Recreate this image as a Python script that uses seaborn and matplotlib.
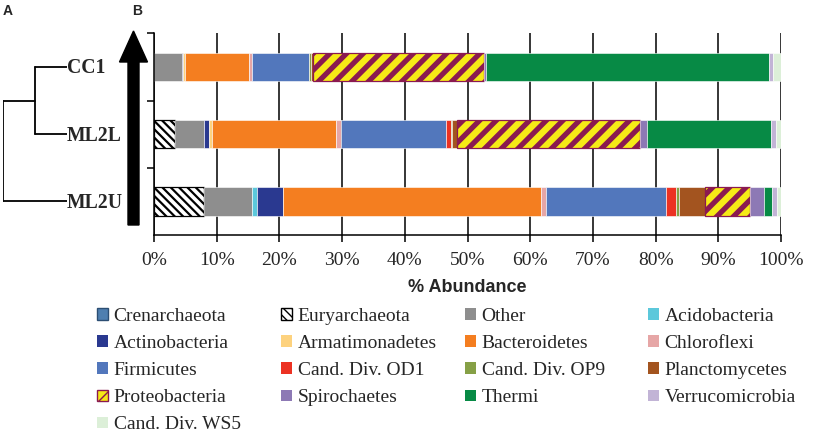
import matplotlib
matplotlib.use("Agg")
import matplotlib.pyplot as plt
import matplotlib.transforms as mtransforms
from matplotlib.patches import Patch, FancyArrow
import seaborn as sns
import pandas as pd
import numpy as np

# === DATA ===
samples = ['CC1', 'ML2L', 'ML2U']
phyla = ['Crenarchaeota', 'Euryarchaeota', 'Other', 'Acidobacteria',
         'Actinobacteria', 'Armatimonadetes', 'Bacteroidetes', 'Chloroflexi',
         'Firmicutes', 'Cand. Div. OD1', 'Cand. Div. OP9', 'Planctomycetes',
         'Proteobacteria', 'Spirochaetes', 'Thermi', 'Verrucomicrobia',
         'Cand. Div. WS5']
# % abundance per phylum (same order as phyla)
cc1 = [0.0, 0.0, 4.4, 0.0, 0.3, 0.2, 10.2, 0.5, 9.1, 0.0, 0.3, 0.4,
       27.2, 0.4, 45.1, 0.7, 1.2]
ml2l = [0.0, 3.3, 4.7, 0.0, 0.8, 0.4, 19.8, 0.8, 16.8, 0.7, 0.2, 0.8,
        29.2, 1.1, 19.8, 0.8, 0.8]
ml2u = [0.0, 8.0, 7.6, 0.8, 4.2, 0.0, 41.1, 0.8, 19.2, 1.6, 0.4, 4.1,
        7.3, 2.2, 1.3, 0.7, 0.7]
# dendrogram: CC1+ML2L join first, then ML2U
merge_heights = [0.5, 1.0]
xtick_values = list(range(0, 101, 10))

# === STYLE ===
colors = ['#4F7FB0', '#FFFFFF', '#8E8E8E', '#5CC8DB', '#2A3990', '#FDD27E',
          '#F47E20', '#E6A6A6', '#5277BC', '#EC3223', '#86A046', '#A3541F',
          '#F6EB16', '#8D79B5', '#078A45', '#C2B4D6', '#DCEFD8']
edges = {'Crenarchaeota': '#2C4E73', 'Euryarchaeota': 'black',
         'Proteobacteria': '#8B1A50'}
hatches = {'Euryarchaeota': '\\\\\\\\', 'Proteobacteria': '//'}
hatch_lw = {'Euryarchaeota': 1.6, 'Proteobacteria': 3.8}

sns.set_style('white')
plt.rcParams['font.family'] = ['Liberation Serif', 'DejaVu Serif']

W, H = 816, 434
fig = plt.figure(figsize=(W / 100, H / 100), dpi=100)


def box(x0, y0, x1, y1):
    return [x0 / W, 1 - y1 / H, (x1 - x0) / W, (y1 - y0) / H]


ax = fig.add_axes(box(154, 33.4, 781, 235))

df = pd.DataFrame({'sample': np.repeat(samples, len(phyla)),
                   'phylum': phyla * len(samples),
                   'pct': cc1 + ml2l + ml2u})

left = np.zeros(len(samples))
for phylum, col in zip(phyla, colors):
    sub = df[df['phylum'] == phylum].set_index('sample').loc[samples].reset_index()
    vals = sub['pct'].to_numpy()
    kw = dict(edgecolor=edges.get(phylum, 'white'),
              linewidth=0.9 if phylum in edges else 0.4,
              hatch=hatches.get(phylum))
    with plt.rc_context({'hatch.linewidth': hatch_lw.get(phylum, 1.0)}):
        n0 = len(ax.patches)
        sns.barplot(data=sub, x='pct', y='sample', order=samples, orient='h',
                    color=col, width=0.42, left=left, ax=ax, **kw)
        for p in ax.patches[n0:]:
            p.set_facecolor(col)
            if hasattr(p, 'set_hatch_linewidth'):
                p.set_hatch_linewidth(hatch_lw.get(phylum, 1.0))
    left = left + vals

ax.set_xlim(0, 100)
ax.set_ylim(2.5, -0.5)
ax.set_xticks(xtick_values)
ax.set_xticklabels([f'{v}%' for v in xtick_values], fontsize=14)
ax.set_yticks([-0.5, 0.5, 1.5])
ax.set_yticklabels([])
ax.set_xlabel('')
ax.set_ylabel('')
ax.tick_params(axis='both', direction='out', length=5, width=1.1,
               color='black', pad=7, left=True, bottom=True)
ax.xaxis.grid(True, color='black', linewidth=1.1)
ax.set_axisbelow(True)
for s in ['top', 'right']:
    ax.spines[s].set_visible(False)
for s in ['left', 'bottom']:
    ax.spines[s].set_color('black')
    ax.spines[s].set_linewidth(1.1)

fig.text(467 / W, 1 - 288 / H, '% Abundance', ha='center', va='center',
         fontsize=13, fontweight='bold', family=['Liberation Sans'])

# === DENDROGRAM (panel A) ===
dax = fig.add_axes(box(3.3, 33.4, 66.7, 235))
dax.set_xlim(merge_heights[1], 0)
dax.set_ylim(2.5, -0.5)
dax.axis('off')
lw = 1.3
h1, h2 = merge_heights
dax.plot([0, h1], [0, 0], color='black', lw=lw)
dax.plot([0, h1], [1, 1], color='black', lw=lw)
dax.plot([h1, h1], [0, 1], color='black', lw=lw)
dax.plot([h1, h2], [0.5, 0.5], color='black', lw=lw)
dax.plot([0, h2], [2, 2], color='black', lw=lw)
dax.plot([h2, h2], [0.5, 2], color='black', lw=lw)
for i, name in enumerate(samples):
    dax.text(0, i + 0.02, name, ha='left', va='center', fontsize=14.2,
             fontweight='bold', clip_on=False)

# big arrow
arrow = FancyArrow(133.5, H - 225, 0, 225 - 31, width=11, head_width=28,
                   head_length=31, length_includes_head=True, color='black',
                   transform=mtransforms.IdentityTransform())
fig.add_artist(arrow)

fig.text(3 / W, 1 - 11 / H, 'A', ha='left', va='center', fontsize=10,
         fontweight='bold', family=['Liberation Sans'])
fig.text(132 / W, 1 - 11 / H, 'B', ha='left', va='center', fontsize=10,
         fontweight='bold', family=['Liberation Sans'])

# === LEGEND (4 columns, row-wise order) ===
handles = [Patch(facecolor=c, edgecolor=edges.get(p, c), hatch=hatches.get(p),
                 linewidth=1.0 if p in edges else 0)
           for p, c in zip(phyla, colors)]
col_x = [97, 281, 465, 648]
for k, x in enumerate(col_x):
    idx = list(range(k, len(phyla), 4))
    leg = fig.legend([handles[i] for i in idx], [phyla[i] for i in idx],
                     loc='upper left', bbox_to_anchor=(x / W, 1 - 308 / H),
                     frameon=False, fontsize=14, borderpad=0, borderaxespad=0,
                     handlelength=0.55, handleheight=0.55, handletextpad=0.3,
                     labelspacing=0.52)

fig.savefig('out.png', dpi=100)
